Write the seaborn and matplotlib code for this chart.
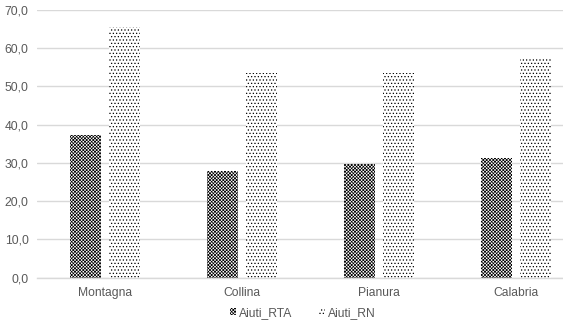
import matplotlib
matplotlib.use("Agg")
import matplotlib.pyplot as plt
import seaborn as sns
import pandas as pd
from matplotlib.patches import Patch
from matplotlib.ticker import FuncFormatter

categories = ["Montagna", "Collina", "Pianura", "Calabria"]
aiuti_rta = [37.4, 27.9, 29.7, 31.4]
aiuti_rn = [65.6, 53.6, 53.6, 57.4]
series = ["Aiuti_RTA", "Aiuti_RN"]
yticks = [0, 10, 20, 30, 40, 50, 60, 70]

df = pd.DataFrame({
    "cat": categories * 2,
    "serie": [series[0]] * 4 + [series[1]] * 4,
    "val": aiuti_rta + aiuti_rn,
})

sns.set_style("white")
plt.rcParams["font.family"] = ["Liberation Sans", "DejaVu Sans"]
plt.rcParams["hatch.linewidth"] = 0.5
text_col = "#595959"
grid_col = "#d9d9d9"
fs = 8.7

fig = plt.figure(figsize=(5.63, 3.33), dpi=100)
ax = fig.add_axes([37 / 563, 55.5 / 333, 547 / 563, 267.5 / 333])

sns.barplot(data=df, x="cat", y="val", hue="serie", order=categories,
            hue_order=series, width=0.57, gap=0.2, ax=ax,
            palette=["white", "white"], legend=False, saturation=1)

hatches = ["xxxxxxxxxx", "....."]
for cont, h in zip(ax.containers, hatches):
    for p in cont:
        p.set_hatch(h)
        p.set_edgecolor("black")
        p.set_linewidth(0)
        p.set_facecolor("white")

ax.set_xlim(-0.5, 3.5)
ax.set_ylim(0, 70)
ax.set_yticks(yticks)
ax.yaxis.set_major_formatter(FuncFormatter(lambda v, p: f"{v:.1f}".replace(".", ",")))
ax.grid(axis="y", color=grid_col, linewidth=1)
ax.set_axisbelow(True)
for s in ["top", "right", "left"]:
    ax.spines[s].set_visible(False)
ax.spines["bottom"].set_color(grid_col)
ax.spines["bottom"].set_linewidth(1)
ax.tick_params(axis="both", length=0, colors=text_col, labelsize=fs)
ax.tick_params(axis="y", pad=6)
ax.tick_params(axis="x", pad=7)
ax.set_xlabel("")
ax.set_ylabel("")

handles = [Patch(facecolor="white", edgecolor="black", hatch=h, linewidth=0, label=l)
           for h, l in zip(hatches, series)]
fig.legend(handles=handles, loc="center", bbox_to_anchor=(303 / 563, 1 - 313 / 333),
           ncol=2, frameon=False, fontsize=fs, labelcolor=text_col,
           handlelength=0.5, handleheight=0.5, handletextpad=0.25, columnspacing=2.2)

fig.savefig("out.png", dpi=100)
